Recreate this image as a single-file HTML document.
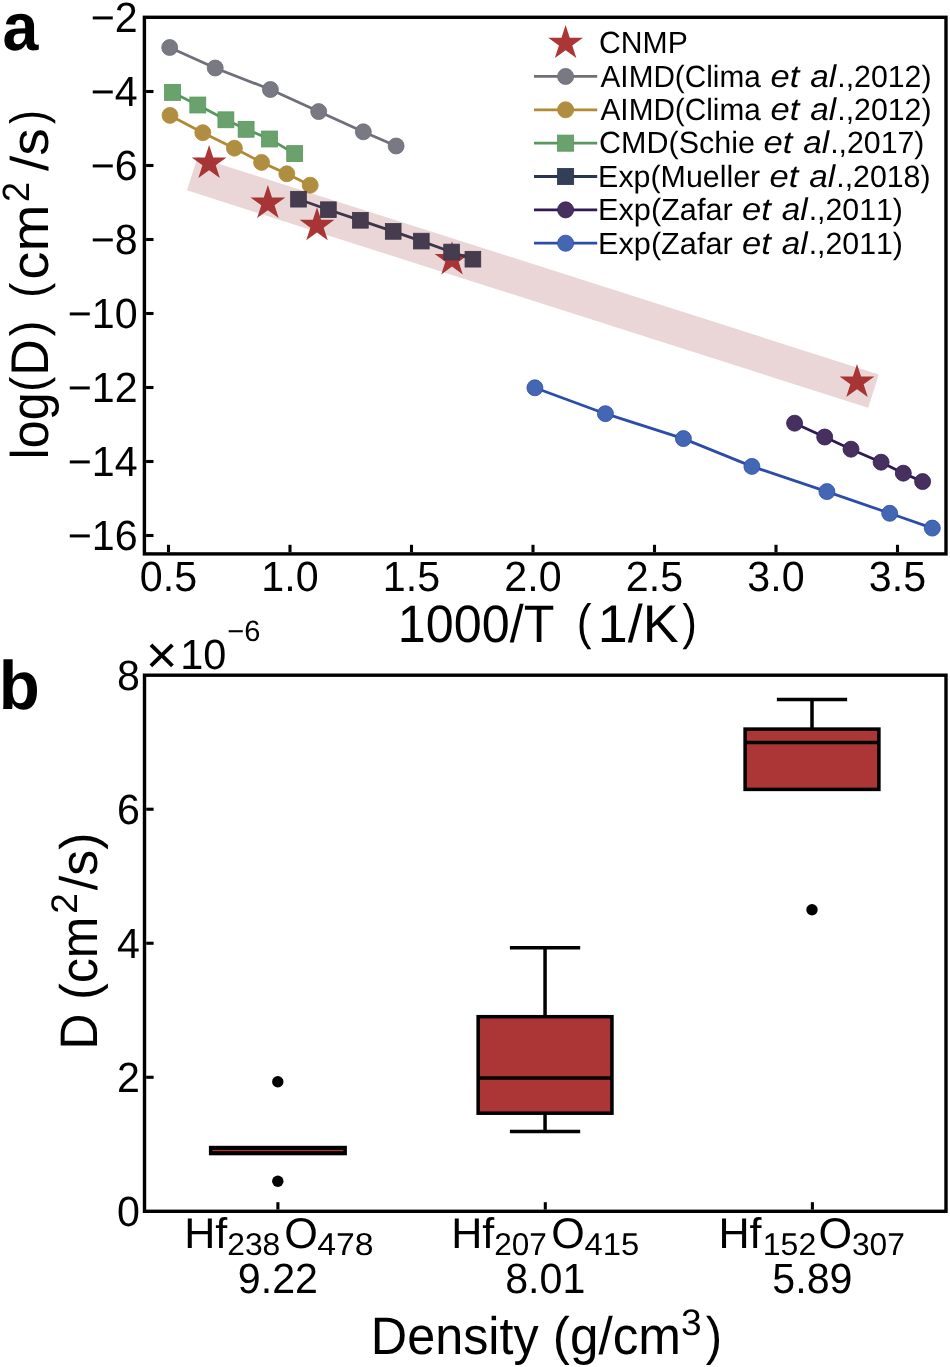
<!DOCTYPE html>
<html><head><meta charset="utf-8"><title>Figure</title>
<style>html,body{margin:0;padding:0;background:#fff}svg{will-change:transform}svg text{font-family:"Liberation Sans",sans-serif;}</style></head>
<body>
<svg width="950" height="1367" viewBox="0 0 950 1367" font-family="Liberation Sans, sans-serif" style="display:block;font-kerning:none" text-rendering="geometricPrecision">
<rect width="950" height="1367" fill="#fff"/>
<polyline fill="none" stroke="#6F6F7B" stroke-width="2.8" points="169.7,47.5 215.2,68 270.4,89.5 318.7,111.6 363.3,131.8 396.1,146"/>
<circle cx="169.7" cy="47.50" r="8.00" fill="#797984" stroke="#6F6F7B" stroke-width="0.8"/>
<circle cx="215.2" cy="68.00" r="8.00" fill="#797984" stroke="#6F6F7B" stroke-width="0.8"/>
<circle cx="270.4" cy="89.50" r="8.00" fill="#797984" stroke="#6F6F7B" stroke-width="0.8"/>
<circle cx="318.7" cy="111.60" r="8.00" fill="#797984" stroke="#6F6F7B" stroke-width="0.8"/>
<circle cx="363.3" cy="131.80" r="8.00" fill="#797984" stroke="#6F6F7B" stroke-width="0.8"/>
<circle cx="396.1" cy="146.00" r="8.00" fill="#797984" stroke="#6F6F7B" stroke-width="0.8"/>
<polyline fill="none" stroke="#B28A34" stroke-width="2.8" points="170,115.4 202.8,132.7 234.4,148.2 261.6,162.4 286.8,173.8 310.2,185.2"/>
<circle cx="170" cy="115.40" r="8.00" fill="#B08E41" stroke="#B28A34" stroke-width="0.8"/>
<circle cx="202.8" cy="132.70" r="8.00" fill="#B08E41" stroke="#B28A34" stroke-width="0.8"/>
<circle cx="234.4" cy="148.20" r="8.00" fill="#B08E41" stroke="#B28A34" stroke-width="0.8"/>
<circle cx="261.6" cy="162.40" r="8.00" fill="#B08E41" stroke="#B28A34" stroke-width="0.8"/>
<circle cx="286.8" cy="173.80" r="8.00" fill="#B08E41" stroke="#B28A34" stroke-width="0.8"/>
<circle cx="310.2" cy="185.20" r="8.00" fill="#B08E41" stroke="#B28A34" stroke-width="0.8"/>
<polyline fill="none" stroke="#58985C" stroke-width="2.8" points="172.5,92.4 197.8,105 225.9,119.8 246.1,129.3 269.5,139 294.7,153.6"/>
<rect x="164.55" y="84.45" width="15.90" height="15.90" fill="#6AA26E" stroke="#58985C" stroke-width="0.8"/>
<rect x="189.85" y="97.05" width="15.90" height="15.90" fill="#6AA26E" stroke="#58985C" stroke-width="0.8"/>
<rect x="217.95" y="111.85" width="15.90" height="15.90" fill="#6AA26E" stroke="#58985C" stroke-width="0.8"/>
<rect x="238.15" y="121.35" width="15.90" height="15.90" fill="#6AA26E" stroke="#58985C" stroke-width="0.8"/>
<rect x="261.55" y="131.05" width="15.90" height="15.90" fill="#6AA26E" stroke="#58985C" stroke-width="0.8"/>
<rect x="286.75" y="145.65" width="15.90" height="15.90" fill="#6AA26E" stroke="#58985C" stroke-width="0.8"/>
<polygon points="209.10,144.90 213.21,157.54 226.50,157.54 215.75,165.36 219.86,178.01 209.10,170.19 198.34,178.01 202.45,165.36 191.70,157.54 204.99,157.54" fill="#AC3636" />
<polygon points="267.90,184.90 272.01,197.54 285.30,197.54 274.55,205.36 278.66,218.01 267.90,210.19 257.14,218.01 261.25,205.36 250.50,197.54 263.79,197.54" fill="#AC3636" />
<polygon points="317.00,207.20 321.11,219.84 334.40,219.84 323.65,227.66 327.76,240.31 317.00,232.49 306.24,240.31 310.35,227.66 299.60,219.84 312.89,219.84" fill="#AC3636" />
<polygon points="452.00,241.30 456.11,253.94 469.40,253.94 458.65,261.76 462.76,274.41 452.00,266.59 441.24,274.41 445.35,261.76 434.60,253.94 447.89,253.94" fill="#AC3636" />
<polygon points="857.00,363.90 861.11,376.54 874.40,376.54 863.65,384.36 867.76,397.01 857.00,389.19 846.24,397.01 850.35,384.36 839.60,376.54 852.89,376.54" fill="#AC3636" />
<polyline fill="none" stroke="#2A3650" stroke-width="2.8" points="298.5,199.2 328.4,209.7 360.4,220.3 393.2,231.4 421.3,241.1 451.6,252.0 472.9,259.2"/>
<rect x="290.65" y="191.35" width="15.70" height="15.70" fill="#333F58" stroke="#2A3650" stroke-width="0.8"/>
<rect x="320.55" y="201.85" width="15.70" height="15.70" fill="#333F58" stroke="#2A3650" stroke-width="0.8"/>
<rect x="352.55" y="212.45" width="15.70" height="15.70" fill="#333F58" stroke="#2A3650" stroke-width="0.8"/>
<rect x="385.35" y="223.55" width="15.70" height="15.70" fill="#333F58" stroke="#2A3650" stroke-width="0.8"/>
<rect x="413.45" y="233.25" width="15.70" height="15.70" fill="#333F58" stroke="#2A3650" stroke-width="0.8"/>
<rect x="443.75" y="244.15" width="15.70" height="15.70" fill="#333F58" stroke="#2A3650" stroke-width="0.8"/>
<rect x="465.05" y="251.35" width="15.70" height="15.70" fill="#333F58" stroke="#2A3650" stroke-width="0.8"/>
<polyline fill="none" stroke="#301A54" stroke-width="2.8" points="794.6,423.2 824.7,437.0 851.0,449.2 881.1,462.2 903.3,473.2 922.6,481.6"/>
<circle cx="794.6" cy="423.20" r="8.00" fill="#47305F" stroke="#301A54" stroke-width="0.8"/>
<circle cx="824.7" cy="437.00" r="8.00" fill="#47305F" stroke="#301A54" stroke-width="0.8"/>
<circle cx="851.0" cy="449.20" r="8.00" fill="#47305F" stroke="#301A54" stroke-width="0.8"/>
<circle cx="881.1" cy="462.20" r="8.00" fill="#47305F" stroke="#301A54" stroke-width="0.8"/>
<circle cx="903.3" cy="473.20" r="8.00" fill="#47305F" stroke="#301A54" stroke-width="0.8"/>
<circle cx="922.6" cy="481.60" r="8.00" fill="#47305F" stroke="#301A54" stroke-width="0.8"/>
<polyline fill="none" stroke="#2B4CAB" stroke-width="2.8" points="534.9,387.8 605.4,413.7 683.4,438.6 751.9,466.4 826.9,491.6 889.7,513.3 932.3,528.1"/>
<circle cx="534.9" cy="387.80" r="8.00" fill="#4467B4" stroke="#2B4CAB" stroke-width="0.8"/>
<circle cx="605.4" cy="413.70" r="8.00" fill="#4467B4" stroke="#2B4CAB" stroke-width="0.8"/>
<circle cx="683.4" cy="438.60" r="8.00" fill="#4467B4" stroke="#2B4CAB" stroke-width="0.8"/>
<circle cx="751.9" cy="466.40" r="8.00" fill="#4467B4" stroke="#2B4CAB" stroke-width="0.8"/>
<circle cx="826.9" cy="491.60" r="8.00" fill="#4467B4" stroke="#2B4CAB" stroke-width="0.8"/>
<circle cx="889.7" cy="513.30" r="8.00" fill="#4467B4" stroke="#2B4CAB" stroke-width="0.8"/>
<circle cx="932.3" cy="528.10" r="8.00" fill="#4467B4" stroke="#2B4CAB" stroke-width="0.8"/>
<line x1="192.3" y1="173.7" x2="873.5" y2="391.1" stroke="#963232" stroke-opacity="0.2" stroke-width="35"/>
<rect x="144.4" y="17.3" width="801.6" height="536.6" fill="none" stroke="#000" stroke-width="3.4"/>
<line x1="168.5" y1="552.1999999999999" x2="168.5" y2="544.8" stroke="#000" stroke-width="3.1"/>
<text transform="translate(139.86 590.60) scale(0.9740 1)" font-size="42.30" fill="#000">0.5</text>
<line x1="290.0" y1="552.1999999999999" x2="290.0" y2="544.8" stroke="#000" stroke-width="3.1"/>
<text transform="translate(261.36 590.60) scale(0.9740 1)" font-size="42.30" fill="#000">1.0</text>
<line x1="411.5" y1="552.1999999999999" x2="411.5" y2="544.8" stroke="#000" stroke-width="3.1"/>
<text transform="translate(382.86 590.60) scale(0.9740 1)" font-size="42.30" fill="#000">1.5</text>
<line x1="533.0" y1="552.1999999999999" x2="533.0" y2="544.8" stroke="#000" stroke-width="3.1"/>
<text transform="translate(504.36 590.60) scale(0.9740 1)" font-size="42.30" fill="#000">2.0</text>
<line x1="654.5" y1="552.1999999999999" x2="654.5" y2="544.8" stroke="#000" stroke-width="3.1"/>
<text transform="translate(625.86 590.60) scale(0.9740 1)" font-size="42.30" fill="#000">2.5</text>
<line x1="776.0" y1="552.1999999999999" x2="776.0" y2="544.8" stroke="#000" stroke-width="3.1"/>
<text transform="translate(747.36 590.60) scale(0.9740 1)" font-size="42.30" fill="#000">3.0</text>
<line x1="897.5" y1="552.1999999999999" x2="897.5" y2="544.8" stroke="#000" stroke-width="3.1"/>
<text transform="translate(868.86 590.60) scale(0.9740 1)" font-size="42.30" fill="#000">3.5</text>
<text transform="translate(90.73 32.30) scale(0.9740 1)" font-size="42.30" fill="#000">−2</text>
<line x1="146.1" y1="91.5" x2="153.5" y2="91.5" stroke="#000" stroke-width="3.1"/>
<text transform="translate(90.73 106.30) scale(0.9740 1)" font-size="42.30" fill="#000">−4</text>
<line x1="146.1" y1="165.5" x2="153.5" y2="165.5" stroke="#000" stroke-width="3.1"/>
<text transform="translate(90.73 180.30) scale(0.9740 1)" font-size="42.30" fill="#000">−6</text>
<line x1="146.1" y1="239.5" x2="153.5" y2="239.5" stroke="#000" stroke-width="3.1"/>
<text transform="translate(90.73 254.30) scale(0.9740 1)" font-size="42.30" fill="#000">−8</text>
<line x1="146.1" y1="313.5" x2="153.5" y2="313.5" stroke="#000" stroke-width="3.1"/>
<text transform="translate(67.81 328.30) scale(0.9740 1)" font-size="42.30" fill="#000">−10</text>
<line x1="146.1" y1="387.5" x2="153.5" y2="387.5" stroke="#000" stroke-width="3.1"/>
<text transform="translate(67.81 402.30) scale(0.9740 1)" font-size="42.30" fill="#000">−12</text>
<line x1="146.1" y1="461.5" x2="153.5" y2="461.5" stroke="#000" stroke-width="3.1"/>
<text transform="translate(67.81 476.30) scale(0.9740 1)" font-size="42.30" fill="#000">−14</text>
<line x1="146.1" y1="535.5" x2="153.5" y2="535.5" stroke="#000" stroke-width="3.1"/>
<text transform="translate(67.81 550.30) scale(0.9740 1)" font-size="42.30" fill="#000">−16</text>
<text transform="translate(2.51 50.30) scale(0.9550 1)" font-size="67.60" font-weight="bold" fill="#000">a</text>
<text transform="translate(397.77 642.10) scale(0.9526 1)" font-size="52.80" fill="#000">1000/T</text>
<text transform="translate(576.74 638.80) scale(0.8973 1)" font-size="49.60" fill="#000">(</text>
<text transform="translate(597.80 642.10) scale(1.0158 1)" font-size="53.00" fill="#000">1/K</text>
<text transform="translate(682.14 638.80) scale(0.8897 1)" font-size="49.60" fill="#000">)</text>
<text transform="translate(48.10 456.00) rotate(-90) translate(-3.38 0) scale(0.9460 1)" font-size="53.00" fill="#000">log</text>
<text transform="translate(44.80 388.90) rotate(-90) translate(-2.78 0) scale(0.9049 1)" font-size="49.60" fill="#000">(</text>
<text transform="translate(48.10 371.50) rotate(-90) translate(-4.14 0) scale(0.9525 1)" font-size="53.00" fill="#000">D</text>
<text transform="translate(44.80 336.00) rotate(-90) translate(-0.27 0) scale(0.9429 1)" font-size="49.60" fill="#000">)</text>
<text transform="translate(44.80 294.90) rotate(-90) translate(-2.81 0) scale(0.9125 1)" font-size="49.60" fill="#000">(</text>
<text transform="translate(48.10 277.30) rotate(-90) translate(-2.40 0) scale(1.0662 1)" font-size="53.00" fill="#000">cm</text>
<text transform="translate(28.90 200.30) rotate(-90) translate(-1.81 0) scale(0.9473 1)" font-size="38.00" fill="#000">2</text>
<text transform="translate(48.10 171.00) rotate(-90) translate(-0.00 0) scale(1.0354 1)" font-size="53.00" fill="#000">/s</text>
<text transform="translate(44.80 123.70) rotate(-90) translate(-0.24 0) scale(0.8365 1)" font-size="49.60" fill="#000">)</text>
<polygon points="565.60,25.00 569.71,37.64 583.00,37.64 572.25,45.46 576.36,58.11 565.60,50.29 554.84,58.11 558.95,45.46 548.20,37.64 561.49,37.64" fill="#AC3636" />
<text transform="translate(599.07 53.40) scale(0.9826 1)" font-size="30.70" fill="#000">CNMP</text>
<line x1="534.0" y1="76.45" x2="597.2" y2="76.45" stroke="#6F6F7B" stroke-width="2.8"/>
<circle cx="565.6" cy="76.45" r="8.05" fill="#797984" stroke="#6F6F7B" stroke-width="0.8"/>
<text transform="translate(600.54 86.75) scale(0.9687 1)" font-size="30.70" fill="#000">AIMD(Clima</text>
<text transform="translate(770.53 86.75) scale(1.0988 1)" font-size="31.50" font-style="italic" fill="#000">et</text>
<text transform="translate(810.35 86.75) scale(1.0564 1)" font-size="31.50" font-style="italic" fill="#000">al</text>
<text transform="translate(837.23 86.75) scale(0.9870 1)" font-size="30.70" fill="#000">.,2012)</text>
<line x1="534.0" y1="109.80" x2="597.2" y2="109.80" stroke="#B28A34" stroke-width="2.8"/>
<circle cx="565.6" cy="109.80" r="8.05" fill="#B08E41" stroke="#B28A34" stroke-width="0.8"/>
<text transform="translate(600.54 120.10) scale(0.9687 1)" font-size="30.70" fill="#000">AIMD(Clima</text>
<text transform="translate(770.53 120.10) scale(1.0988 1)" font-size="31.50" font-style="italic" fill="#000">et</text>
<text transform="translate(810.35 120.10) scale(1.0564 1)" font-size="31.50" font-style="italic" fill="#000">al</text>
<text transform="translate(837.23 120.10) scale(0.9870 1)" font-size="30.70" fill="#000">.,2012)</text>
<line x1="534.0" y1="143.15" x2="597.2" y2="143.15" stroke="#58985C" stroke-width="2.8"/>
<rect x="557.55" y="135.10" width="16.10" height="16.10" fill="#6AA26E" stroke="#58985C" stroke-width="0.8"/>
<text transform="translate(599.05 153.45) scale(0.9941 1)" font-size="30.70" fill="#000">CMD(Schie</text>
<text transform="translate(763.43 153.45) scale(1.0988 1)" font-size="31.50" font-style="italic" fill="#000">et</text>
<text transform="translate(803.25 153.45) scale(1.0564 1)" font-size="31.50" font-style="italic" fill="#000">al</text>
<text transform="translate(830.13 153.45) scale(0.9870 1)" font-size="30.70" fill="#000">.,2017)</text>
<line x1="534.0" y1="176.50" x2="597.2" y2="176.50" stroke="#2A3650" stroke-width="2.8"/>
<rect x="557.55" y="168.45" width="16.10" height="16.10" fill="#333F58" stroke="#2A3650" stroke-width="0.8"/>
<text transform="translate(598.11 186.80) scale(0.9903 1)" font-size="30.70" fill="#000">Exp(Mueller</text>
<text transform="translate(769.53 186.80) scale(1.0988 1)" font-size="31.50" font-style="italic" fill="#000">et</text>
<text transform="translate(809.35 186.80) scale(1.0564 1)" font-size="31.50" font-style="italic" fill="#000">al</text>
<text transform="translate(836.23 186.80) scale(0.9870 1)" font-size="30.70" fill="#000">.,2018)</text>
<line x1="534.0" y1="209.85" x2="597.2" y2="209.85" stroke="#301A54" stroke-width="2.8"/>
<circle cx="565.6" cy="209.85" r="8.05" fill="#47305F" stroke="#301A54" stroke-width="0.8"/>
<text transform="translate(598.08 220.15) scale(0.9989 1)" font-size="30.70" fill="#000">Exp(Zafar</text>
<text transform="translate(741.93 220.15) scale(1.0988 1)" font-size="31.50" font-style="italic" fill="#000">et</text>
<text transform="translate(781.75 220.15) scale(1.0564 1)" font-size="31.50" font-style="italic" fill="#000">al</text>
<text transform="translate(808.63 220.15) scale(0.9870 1)" font-size="30.70" fill="#000">.,2011)</text>
<line x1="534.0" y1="243.20" x2="597.2" y2="243.20" stroke="#2B4CAB" stroke-width="2.8"/>
<circle cx="565.6" cy="243.20" r="8.05" fill="#4467B4" stroke="#2B4CAB" stroke-width="0.8"/>
<text transform="translate(598.08 253.50) scale(0.9989 1)" font-size="30.70" fill="#000">Exp(Zafar</text>
<text transform="translate(741.93 253.50) scale(1.0988 1)" font-size="31.50" font-style="italic" fill="#000">et</text>
<text transform="translate(781.75 253.50) scale(1.0564 1)" font-size="31.50" font-style="italic" fill="#000">al</text>
<text transform="translate(808.63 253.50) scale(0.9870 1)" font-size="30.70" fill="#000">.,2011)</text>
<rect x="208.9" y="1145.8" width="138" height="9.5" fill="#000"/>
<rect x="212.4" y="1149.9" width="131" height="1.3" fill="#AC3636"/>
<circle cx="277.8" cy="1081.8" r="5.7" fill="#000"/>
<circle cx="277.8" cy="1181.2" r="5.7" fill="#000"/>
<line x1="545.05" y1="1016.7" x2="545.05" y2="947.8" stroke="#000" stroke-width="3.5"/>
<line x1="511.65" y1="947.8" x2="578.4499999999999" y2="947.8" stroke="#000" stroke-width="3.5" stroke-linecap="square"/>
<line x1="545.05" y1="1113.2" x2="545.05" y2="1131.4" stroke="#000" stroke-width="3.5"/>
<line x1="511.65" y1="1131.4" x2="578.4499999999999" y2="1131.4" stroke="#000" stroke-width="3.5" stroke-linecap="square"/>
<rect x="478.15" y="1016.7" width="133.8" height="96.5" fill="#AC3636" stroke="#000" stroke-width="3.5"/>
<line x1="478.15" y1="1077.9" x2="611.9499999999999" y2="1077.9" stroke="#000" stroke-width="3.5"/>
<line x1="812.0" y1="729.1" x2="812.0" y2="699.5" stroke="#000" stroke-width="3.5"/>
<line x1="778.6" y1="699.5" x2="845.4" y2="699.5" stroke="#000" stroke-width="3.5" stroke-linecap="square"/>
<rect x="745.1" y="729.1" width="133.8" height="60.299999999999955" fill="#AC3636" stroke="#000" stroke-width="3.5"/>
<line x1="745.1" y1="742.6" x2="878.9" y2="742.6" stroke="#000" stroke-width="3.5"/>
<circle cx="812" cy="909.7" r="5.7" fill="#000"/>
<rect x="144.5" y="675.2" width="801.5" height="536.0999999999999" fill="none" stroke="#000" stroke-width="3.4"/>
<text transform="translate(116.99 1225.90) scale(0.9740 1)" font-size="42.30" fill="#000">0</text>
<line x1="146.2" y1="1077.28" x2="153.6" y2="1077.28" stroke="#000" stroke-width="3.1"/>
<text transform="translate(116.99 1091.88) scale(0.9740 1)" font-size="42.30" fill="#000">2</text>
<line x1="146.2" y1="943.25" x2="153.6" y2="943.25" stroke="#000" stroke-width="3.1"/>
<text transform="translate(116.99 957.85) scale(0.9740 1)" font-size="42.30" fill="#000">4</text>
<line x1="146.2" y1="809.23" x2="153.6" y2="809.23" stroke="#000" stroke-width="3.1"/>
<text transform="translate(116.99 823.83) scale(0.9740 1)" font-size="42.30" fill="#000">6</text>
<text transform="translate(116.99 689.80) scale(0.9740 1)" font-size="42.30" fill="#000">8</text>
<line x1="277.9" y1="1209.6" x2="277.9" y2="1202.1999999999998" stroke="#000" stroke-width="3.1"/>
<text transform="translate(184.27 1247.70) scale(1.0016 1)" font-size="43.00" fill="#000">Hf</text>
<text transform="translate(227.20 1254.50) scale(1.0100 1)" font-size="31.50" fill="#000">238</text>
<text transform="translate(284.25 1247.70) scale(1.0050 1)" font-size="43.00" fill="#000">O</text>
<text transform="translate(317.13 1254.50) scale(1.0720 1)" font-size="31.50" fill="#000">478</text>
<text transform="translate(237.81 1292.90) scale(0.9740 1)" font-size="42.30" fill="#000">9.22</text>
<line x1="545.3" y1="1209.6" x2="545.3" y2="1202.1999999999998" stroke="#000" stroke-width="3.1"/>
<text transform="translate(451.17 1247.70) scale(1.0016 1)" font-size="43.00" fill="#000">Hf</text>
<text transform="translate(494.21 1254.50) scale(1.0023 1)" font-size="31.50" fill="#000">207</text>
<text transform="translate(551.26 1247.70) scale(1.0016 1)" font-size="43.00" fill="#000">O</text>
<text transform="translate(584.55 1254.50) scale(1.0414 1)" font-size="31.50" fill="#000">415</text>
<text transform="translate(505.21 1292.90) scale(0.9740 1)" font-size="42.30" fill="#000">8.01</text>
<line x1="812.4" y1="1209.6" x2="812.4" y2="1202.1999999999998" stroke="#000" stroke-width="3.1"/>
<text transform="translate(718.47 1247.70) scale(1.0016 1)" font-size="43.00" fill="#000">Hf</text>
<text transform="translate(762.76 1254.50) scale(1.0170 1)" font-size="31.50" fill="#000">152</text>
<text transform="translate(818.45 1247.70) scale(1.0050 1)" font-size="43.00" fill="#000">O</text>
<text transform="translate(851.99 1254.50) scale(1.0066 1)" font-size="31.50" fill="#000">307</text>
<text transform="translate(772.31 1292.90) scale(0.9740 1)" font-size="42.30" fill="#000">5.89</text>
<text transform="translate(-1.23 708.60) scale(0.9800 1)" font-size="68.50" font-weight="bold" fill="#000">b</text>
<text transform="translate(145.82 673.30) scale(1.0285 1)" font-size="53.00" fill="#000">×</text>
<text transform="translate(180.24 669.00) scale(0.9792 1)" font-size="42.30" fill="#000">10</text>
<text transform="translate(227.37 640.60) scale(0.9877 1)" font-size="29.40" fill="#000">−6</text>
<text transform="translate(97.30 1045.40) rotate(-90) translate(-4.09 0) scale(0.9432 1)" font-size="52.80" fill="#000">D (cm</text>
<text transform="translate(77.30 911.80) rotate(-90) translate(-1.87 0) scale(1.0026 1)" font-size="37.00" fill="#000">2</text>
<text transform="translate(97.30 890.20) rotate(-90) translate(-0.00 0) scale(0.9823 1)" font-size="52.80" fill="#000">/s)</text>
<text transform="translate(370.87 1353.60) scale(0.9532 1)" font-size="52.80" fill="#000">Density</text>
<text transform="translate(552.82 1353.60) scale(0.9709 1)" font-size="52.80" fill="#000">(g/cm</text>
<text transform="translate(680.99 1335.20) scale(1.0033 1)" font-size="37.00" fill="#000">3</text>
<text transform="translate(705.71 1353.60) scale(0.9286 1)" font-size="52.80" fill="#000">)</text>
</svg>
</body></html>
